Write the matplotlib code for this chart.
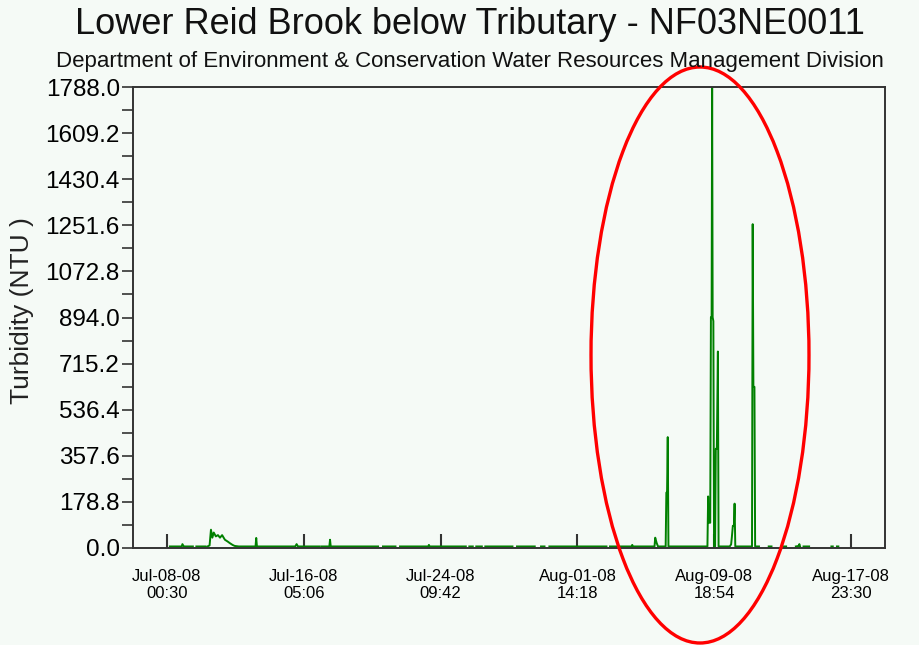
import numpy as np
import pandas as pd
import matplotlib
matplotlib.use("Agg")
import matplotlib.pyplot as plt
from matplotlib.dates import DateFormatter
from matplotlib.ticker import FixedLocator, MultipleLocator, FormatStrFormatter
from matplotlib.patches import Ellipse

nan = np.nan

# turbidity readings (NTU), nan = no data
stamps = [
    "2008-07-08 05:00", "2008-07-08 22:00", "2008-07-08 23:00", "2008-07-09 01:00",
    "2008-07-09 14:00", "2008-07-09 16:00", "2008-07-09 19:00", "2008-07-10 08:00",
    "2008-07-10 09:30", "2008-07-10 11:00", "2008-07-10 14:00", "2008-07-10 16:00",
    "2008-07-10 18:00", "2008-07-10 20:00", "2008-07-10 23:00", "2008-07-11 02:00",
    "2008-07-11 05:00", "2008-07-11 08:00", "2008-07-11 12:00", "2008-07-11 16:00",
    "2008-07-11 19:00", "2008-07-11 23:00", "2008-07-12 02:00", "2008-07-12 08:00",
    "2008-07-13 08:00", "2008-07-13 09:00", "2008-07-13 10:00", "2008-07-15 17:00",
    "2008-07-15 19:00", "2008-07-15 21:00", "2008-07-17 04:00", "2008-07-17 05:30",
    "2008-07-17 07:00", "2008-07-17 18:00", "2008-07-17 19:00", "2008-07-17 20:00",
    "2008-07-20 16:00", "2008-07-20 19:00", "2008-07-20 23:00", "2008-07-21 17:00",
    "2008-07-21 20:00", "2008-07-21 23:30", "2008-07-23 16:00", "2008-07-23 17:00",
    "2008-07-23 18:00", "2008-07-25 22:00", "2008-07-26 00:30", "2008-07-26 03:00",
    "2008-07-26 08:00", "2008-07-26 10:30", "2008-07-26 13:00", "2008-07-26 21:00",
    "2008-07-26 23:30", "2008-07-27 02:00", "2008-07-28 17:00", "2008-07-28 20:00",
    "2008-07-28 23:30", "2008-07-30 01:00", "2008-07-30 04:00", "2008-07-30 10:00",
    "2008-07-30 15:00", "2008-07-30 18:00", "2008-07-30 22:00", "2008-08-03 08:00",
    "2008-08-03 10:30", "2008-08-03 13:00", "2008-08-04 20:00", "2008-08-04 21:00",
    "2008-08-04 22:00", "2008-08-06 05:00", "2008-08-06 06:00", "2008-08-06 08:00",
    "2008-08-06 10:00", "2008-08-06 21:00", "2008-08-06 22:00", "2008-08-06 23:00",
    "2008-08-07 00:00", "2008-08-07 01:00", "2008-08-09 09:00", "2008-08-09 10:00",
    "2008-08-09 11:00", "2008-08-09 13:00", "2008-08-09 14:00", "2008-08-09 15:00",
    "2008-08-09 15:45", "2008-08-09 16:30", "2008-08-09 17:30", "2008-08-09 18:30",
    "2008-08-09 20:00", "2008-08-09 21:00", "2008-08-09 22:30", "2008-08-10 00:00",
    "2008-08-10 01:00", "2008-08-10 17:00", "2008-08-10 19:00", "2008-08-10 20:00",
    "2008-08-10 21:30", "2008-08-10 23:00", "2008-08-11 00:00", "2008-08-11 01:00",
    "2008-08-12 01:00", "2008-08-12 02:00", "2008-08-12 03:00", "2008-08-12 04:30",
    "2008-08-12 05:30", "2008-08-12 11:00", "2008-08-12 16:00", "2008-08-13 01:00",
    "2008-08-13 05:00", "2008-08-13 14:00", "2008-08-13 23:00", "2008-08-14 02:00",
    "2008-08-14 06:00", "2008-08-14 09:00", "2008-08-14 11:00", "2008-08-14 16:00",
    "2008-08-14 20:00", "2008-08-14 21:00", "2008-08-14 22:00", "2008-08-15 01:00",
    "2008-08-15 03:00", "2008-08-15 11:00", "2008-08-16 05:00", "2008-08-16 19:00",
    "2008-08-16 21:00", "2008-08-17 00:00", "2008-08-17 03:00", "2008-08-17 05:00",
]
ntu = [
    6, 6, 15, 6,
    6, nan, 6, 6,
    nan, 6, 10, 71,
    40, 60, 45, 50,
    40, 50, 32, 25,
    19, 12, 8, 6,
    6, 39, 6, 6,
    15, 6, 6, nan,
    6, 6, 32, 6,
    6, nan, 6, 6,
    nan, 6, 6, 12,
    6, 6, nan, 6,
    6, nan, 6, 6,
    nan, 6, 6, nan,
    6, 6, nan, 6,
    6, nan, 6, 6,
    nan, 6, 6, 12,
    6, 6, 40, 20,
    6, 6, 215, 215,
    430, 6, 6, 200,
    98, 98, 895, 895,
    1788, 895, 880, 6,
    6, 385, 385, 762,
    6, 6, 14, 40,
    86, 86, 172, 6,
    6, 1256, 625, 625,
    6, 6, nan, 6,
    6, nan, 6, 6,
    nan, 6, nan, 6,
    8, 15, 6, nan,
    6, 6, nan, 6,
    6, nan, 6, 6,
]

tick_stamps = ["2008-07-08 00:30", "2008-07-16 05:06", "2008-07-24 09:42",
               "2008-08-01 14:18", "2008-08-09 18:54", "2008-08-17 23:30"]
y_max = 1788.0
y_step = 178.8

plt.rcParams['font.family'] = ['Liberation Sans', 'DejaVu Sans']
bg = '#f5faf6'

fig = plt.figure(figsize=(9.19, 6.45), dpi=100, facecolor=bg)
ax = fig.add_axes([0.1447, 0.1504, 0.8183, 0.7147], facecolor=bg)

t = pd.to_datetime(stamps)
ax.plot(t, ntu, color='#008000', lw=1.4)

ax.set_xlim(pd.Timestamp("2008-07-06 00:00"), pd.Timestamp("2008-08-20 00:00"))
ax.set_ylim(0, y_max)

# y axis: labelled ticks every 178.8, half steps unlabelled
ax.yaxis.set_major_locator(FixedLocator(np.arange(0, y_max + 1, y_step)))
ax.yaxis.set_major_formatter(FormatStrFormatter('%.1f'))
ax.yaxis.set_minor_locator(MultipleLocator(y_step / 2))
ax.tick_params(axis='y', which='both', direction='out', length=8, width=1.2,
               color='#333333', labelsize=17.5, pad=1.5)

ax.set_xticks(pd.to_datetime(tick_stamps))
ax.xaxis.set_major_formatter(DateFormatter('%b-%d-%y\n%H:%M'))
ax.tick_params(axis='x', direction='in', length=10, width=1.5, color='#333333',
               labelsize=12, pad=15)
for lbl in ax.get_xticklabels():
    lbl.set_linespacing(1.15)

for s in ax.spines.values():
    s.set_color('#333333')
    s.set_linewidth(1.4)

ax.set_ylabel('Turbidity (NTU )', fontsize=19, color='#222222')
ax.yaxis.label.set_va('center')
ax.yaxis.set_label_coords(-0.1476, 0.516)

fig.text(0.511, 0.962, 'Lower Reid Brook below Tributary - NF03NE0011',
         ha='center', va='center', fontsize=26, color='#111111')
fig.text(0.511, 0.905,
         'Department of Environment & Conservation Water Resources Management Division',
         ha='center', va='center', fontsize=16, color='#111111')

# highlight around the August spikes
ring = Ellipse((0.7617, 0.4496), 0.2372, 0.893, transform=fig.transFigure,
               fill=False, ec='red', lw=2.4, clip_on=False)
fig.add_artist(ring)

fig.savefig('out.png', dpi=100, facecolor=bg)
